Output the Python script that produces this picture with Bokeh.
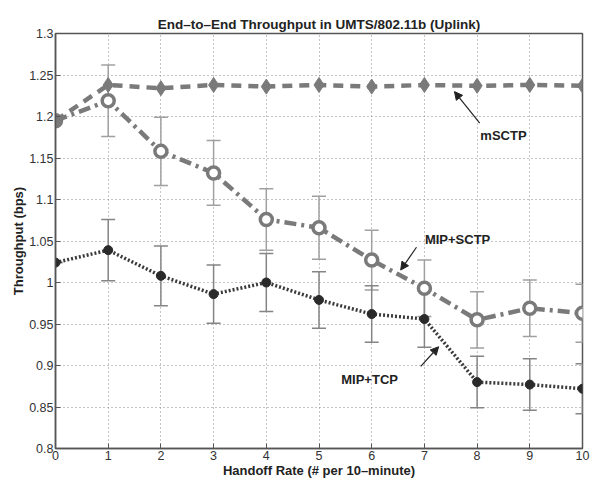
from bokeh.plotting import figure
from bokeh.models import (ColumnDataSource, Whisker, TeeHead, FixedTicker,
                          Label, Arrow, NormalHead, Range1d)
from bokeh.embed import file_html
from bokeh.resources import INLINE
import numpy as np

# ---- data ----
handoff = [0, 1, 2, 3, 4, 5, 6, 7, 8, 9, 10]
msctp = [1.195, 1.238, 1.234, 1.238, 1.236, 1.238, 1.236, 1.238, 1.237, 1.238, 1.237]
mip_sctp = [1.195, 1.219, 1.158, 1.132, 1.076, 1.066, 1.027, 0.993, 0.955, 0.969, 0.963]
mip_sctp_err = [0.0, 0.043, 0.041, 0.039, 0.037, 0.038, 0.036, 0.034, 0.034, 0.034, 0.035]
mip_tcp = [1.024, 1.039, 1.008, 0.986, 1.000, 0.979, 0.962, 0.956, 0.880, 0.877, 0.872]
mip_tcp_err = [0.0, 0.037, 0.036, 0.035, 0.035, 0.034, 0.034, 0.034, 0.031, 0.031, 0.030]

x_ticks = [0, 1, 2, 3, 4, 5, 6, 7, 8, 9, 10]
y_ticks = [0.8, 0.85, 0.9, 0.95, 1.0, 1.05, 1.1, 1.15, 1.2, 1.25, 1.3]
y_tick_labels = ["0.8", "0.85", "0.9", "0.95", "1", "1.05", "1.1", "1.15", "1.2", "1.25", "1.3"]

FONT = "Liberation Sans"

p = figure(width=594, height=480, output_backend="svg", toolbar_location=None,
           x_range=Range1d(0, 10), y_range=Range1d(0.8, 1.3),
           title="End\u2013to\u2013End Throughput in UMTS/802.11b (Uplink)",
           min_border_left=55, min_border_right=12, min_border_top=33, min_border_bottom=31)
p.title.align = "center"
p.title.text_font = FONT
p.title.text_font_size = "13.5px"
p.title.text_font_style = "bold"
p.title.text_color = "#222222"
p.title.offset = 0
p.title.standoff = 4
p.outline_line_color = "#555555"
p.outline_line_width = 1.5
p.background_fill_color = "white"

# grid
for g in (p.xgrid, p.ygrid):
    g.grid_line_color = "#888888"
    g.grid_line_dash = "1 3"
    g.grid_line_width = 1
p.xgrid.ticker = FixedTicker(ticks=x_ticks)
p.ygrid.ticker = FixedTicker(ticks=y_ticks)

# axes
p.xaxis.ticker = FixedTicker(ticks=x_ticks)
p.yaxis.ticker = FixedTicker(ticks=y_ticks)
p.yaxis.major_label_overrides = {t: l for t, l in zip(y_ticks, y_tick_labels)}
for ax in (p.xaxis[0], p.yaxis[0]):
    ax.major_tick_in = 5
    ax.major_tick_out = 0
    ax.minor_tick_line_color = None
    ax.axis_line_color = "#555555"
    ax.axis_line_width = 1.5
    ax.major_tick_line_color = "#555555"
    ax.major_label_text_font = FONT
    ax.major_label_text_font_size = "12.5px"
    ax.major_label_text_color = "#333333"
    ax.axis_label_text_font = FONT
    ax.axis_label_text_font_size = "13px"
    ax.axis_label_text_font_style = "bold"
    ax.axis_label_text_color = "#222222"
    ax.major_label_standoff = 2
    ax.axis_label_standoff = 0
p.xaxis.axis_label = "Handoff Rate (# per 10\u2013minute)"
p.yaxis.axis_label = "Throughput (bps)"

# error bars
src_s = ColumnDataSource(dict(x=handoff, y=mip_sctp,
                              lo=np.array(mip_sctp) - np.array(mip_sctp_err),
                              hi=np.array(mip_sctp) + np.array(mip_sctp_err)))
src_t = ColumnDataSource(dict(x=handoff, y=mip_tcp,
                              lo=np.array(mip_tcp) - np.array(mip_tcp_err),
                              hi=np.array(mip_tcp) + np.array(mip_tcp_err)))
for src, col in ((src_s, "#a0a0a0"), (src_t, "#858585")):
    w = Whisker(source=src, base="x", lower="lo", upper="hi",
                line_color=col, line_width=1.5,
                upper_head=TeeHead(size=14, line_color=col, line_width=1.5),
                lower_head=TeeHead(size=14, line_color=col, line_width=1.5))
    p.add_layout(w)

# series
p.line(handoff, mip_tcp, line_color="#3a3a3a", line_width=3.5, line_dash="2 2")
p.scatter(handoff, mip_tcp, marker="circle", size=9, fill_color="#2a2a2a", line_color="#2a2a2a")

p.line(handoff, mip_sctp, line_color="#7a7a7a", line_width=4.5, line_dash="12 5 3 5")
p.scatter(handoff, mip_sctp, marker="circle", size=12, fill_color="white",
          line_color="#7a7a7a", line_width=3.5)

p.line(handoff, msctp, line_color="#7a7a7a", line_width=4.5, line_dash="10 7")
p.scatter(handoff, msctp, marker="diamond", size=15, fill_color="#7a7a7a", line_color="#7a7a7a")

# annotations
def note(text, x, y, tail, tip):
    p.add_layout(Label(x=x, y=y, text=text, text_font=FONT, text_font_size="13px",
                       text_font_style="bold", text_color="#222222",
                       text_align="center", text_baseline="middle"))
    p.add_layout(Arrow(x_start=tail[0], y_start=tail[1], x_end=tip[0], y_end=tip[1],
                       line_color="#222222", line_width=1.2,
                       end=NormalHead(size=8, fill_color="#222222", line_color="#222222")))

note("mSCTP", 8.5, 1.177, (8.05, 1.192), (7.57, 1.230))
note("MIP+SCTP", 7.63, 1.052, (6.85, 1.0425), (6.55, 1.015))
note("MIP+TCP", 5.96, 0.883, (6.93, 0.899), (7.27, 0.9226))

# exponent label
p.add_layout(Label(x=0, y=1.3, text="x 10\u2076", x_offset=2, y_offset=2,
                   text_font=FONT, text_font_size="11px", text_color="#333333",
                   text_baseline="bottom"))

open("out.html", "w").write(file_html(p, INLINE))
